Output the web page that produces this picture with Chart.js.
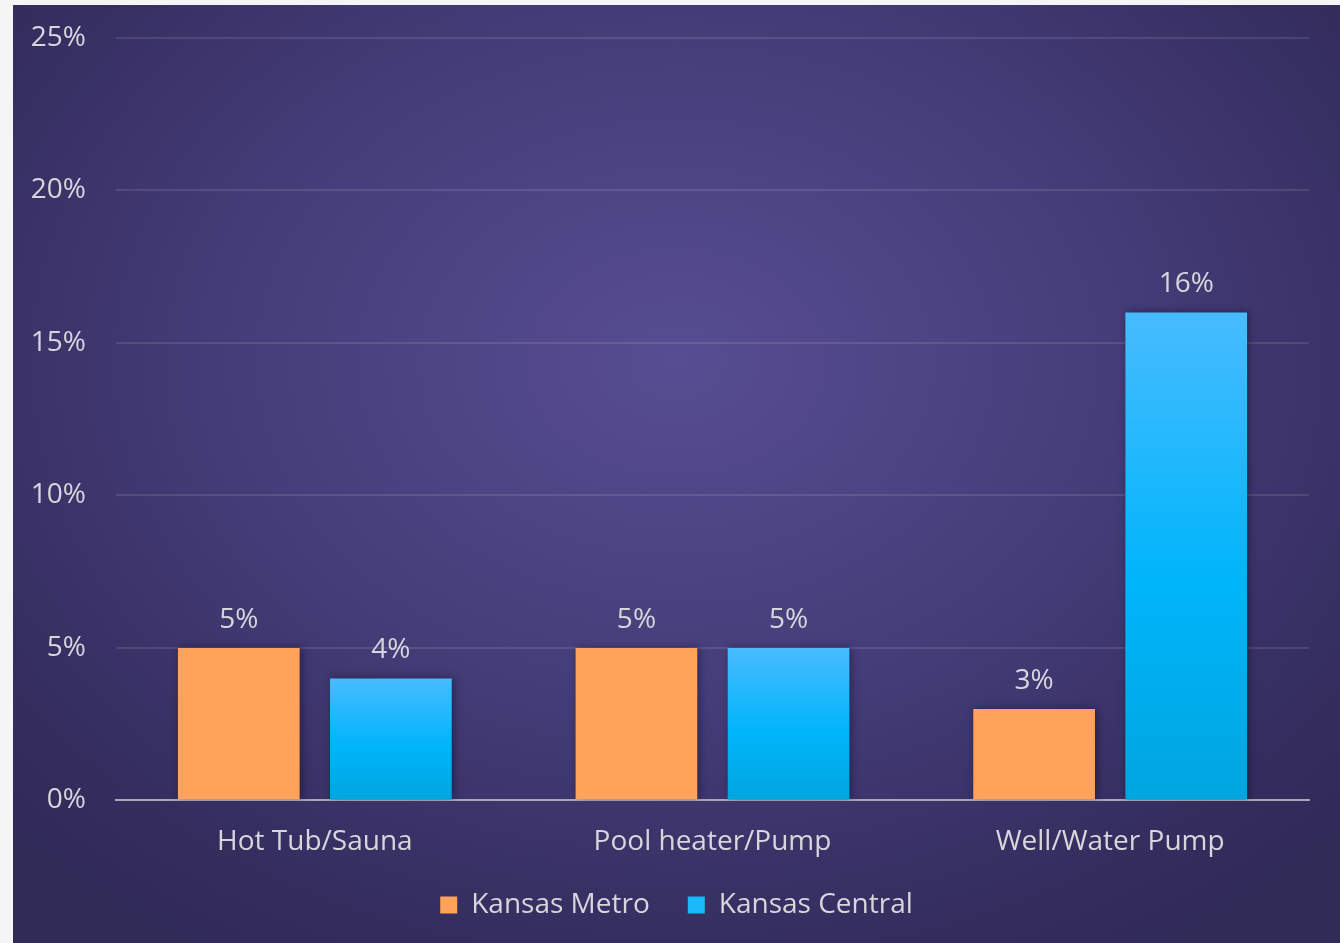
<!DOCTYPE html>
<html>
<head>
  <title>Appliance Share</title>
  <script src="https://cdn.jsdelivr.net/npm/chart.js"></script>
  <style>
    html, body {
      margin: 0;
      padding: 0;
      background: #f5f5f5;
    }
    .panel {
      position: absolute;
      left: 13px;
      top: 5px;
      width: 1327px;
      height: 938px;
      background: radial-gradient(ellipse 70% 75% at 50% 38%, #574d92 0%, #463e7a 45%, #342d5e 85%, #302a57 100%);
    }
    #barChart {
      display: block;
    }
  </style>
</head>
<body>
  <div class="panel">
    <canvas id="barChart" width="1327" height="938"></canvas>
  </div>

  <script>
    const categories = ['Hot Tub/Sauna', 'Pool heater/Pump', 'Well/Water Pump'];
    const metroValues = [5, 5, 3];
    const centralValues = [4, 5, 16];
    const yTicks = [0, 5, 10, 15, 20, 25];

    const textColor = '#d6d6dc';
    const fontFamily = "'Open Sans', 'DejaVu Sans', sans-serif";

    // blue bars fade from light at the top to deeper at the base
    function blueFill(context) {
      const chart = context.chart;
      const area = chart.chartArea;
      if (!area) return '#00b4f8';
      const y = chart.scales.y;
      const top = y.getPixelForValue(context.raw || 0);
      const base = y.getPixelForValue(0);
      const g = chart.ctx.createLinearGradient(0, top, 0, base);
      g.addColorStop(0, '#48bbff');
      g.addColorStop(0.55, '#00b5fa');
      g.addColorStop(1, '#00a5df');
      return g;
    }

    // soft shadow behind the bars
    const barShadow = {
      id: 'barShadow',
      beforeDatasetsDraw(chart) {
        const ctx = chart.ctx;
        ctx.save();
        ctx.shadowColor = 'rgba(10, 5, 30, 0.45)';
        ctx.shadowBlur = 8;
        ctx.shadowOffsetX = 2;
        ctx.shadowOffsetY = 0;
      },
      afterDatasetsDraw(chart) {
        chart.ctx.restore();
      }
    };

    // value labels above each bar
    const valueLabels = {
      id: 'valueLabels',
      afterDatasetsDraw(chart) {
        const ctx = chart.ctx;
        ctx.save();
        ctx.fillStyle = textColor;
        ctx.font = '28px ' + fontFamily;
        ctx.textAlign = 'center';
        ctx.textBaseline = 'bottom';
        chart.data.datasets.forEach((ds, i) => {
          const meta = chart.getDatasetMeta(i);
          meta.data.forEach((bar, j) => {
            ctx.fillText(ds.data[j] + '%', bar.x, bar.y - 14);
          });
        });
        ctx.restore();
      }
    };

    const ctx = document.getElementById('barChart').getContext('2d');
    const chart = new Chart(ctx, {
      type: 'bar',
      data: {
        labels: categories,
        datasets: [
          {
            label: 'Kansas Metro',
            data: metroValues,
            backgroundColor: '#ffa35a',
            borderWidth: 0
          },
          {
            label: 'Kansas Central',
            data: centralValues,
            backgroundColor: blueFill,
            borderWidth: 0
          }
        ]
      },
      options: {
        responsive: false,
        animation: false,
        devicePixelRatio: 1,
        categoryPercentage: 0.765,
        barPercentage: 0.8,
        layout: {
          padding: { left: 0, right: 0, top: 33, bottom: 14 }
        },
        plugins: {
          legend: {
            position: 'bottom',
            labels: {
              color: textColor,
              font: { family: fontFamily, size: 28 },
              boxWidth: 17,
              boxHeight: 17,
              padding: 38,
              generateLabels(chart) {
                return [
                  { text: 'Kansas Metro', fillStyle: '#ffa35a', strokeStyle: '#ffa35a', lineWidth: 0, fontColor: textColor, datasetIndex: 0 },
                  { text: 'Kansas Central', fillStyle: '#1ab8fb', strokeStyle: '#1ab8fb', lineWidth: 0, fontColor: textColor, datasetIndex: 1 }
                ];
              }
            }
          },
          tooltip: { enabled: false }
        },
        scales: {
          x: {
            grid: { display: false, drawTicks: false },
            border: { color: '#a9a6b8', width: 2 },
            afterFit(axis) {
              // let the labels sit in the legend's empty top band
              axis.height -= 31;
              axis._computeLabelArea = () => undefined;
            },
            ticks: {
              color: textColor,
              font: { family: fontFamily, size: 28 },
              padding: 25
            }
          },
          y: {
            min: 0,
            max: 25,
            afterBuildTicks(axis) {
              axis.ticks = yTicks.map(v => ({ value: v }));
            },
            afterFit(axis) {
              axis.width = 103;
              axis.paddingTop = 0;
              axis.paddingBottom = 0;
            },
            grid: {
              color: 'rgba(255, 255, 255, 0.11)',
              lineWidth: 2,
              drawTicks: false
            },
            border: { display: false },
            ticks: {
              color: textColor,
              font: { family: fontFamily, size: 28 },
              padding: 30,
              callback: v => v + '%'
            }
          },
          // empty right-hand gutter, keeps the legend centred on the panel
          gutter: {
            type: 'linear',
            position: 'right',
            grid: { display: false, drawTicks: false },
            border: { display: false },
            ticks: { display: false },
            afterFit(axis) {
              axis.width = 31;
              axis.paddingTop = 0;
              axis.paddingBottom = 0;
            }
          }
        }
      },
      plugins: [barShadow, valueLabels]
    });
  </script>
</body>
</html>
